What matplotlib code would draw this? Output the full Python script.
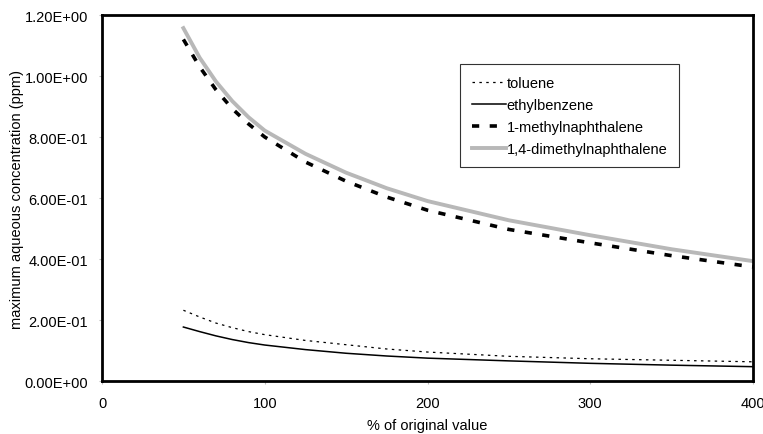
import matplotlib
matplotlib.use("Agg")
from matplotlib import pyplot as plt
from matplotlib.ticker import FuncFormatter

# ==================================================================================
# DATA
# ==================================================================================
pct_original = [50, 60, 70, 80, 90, 100, 125, 150, 175, 200, 250, 300, 350, 400]

toluene      = [0.232, 0.210, 0.190, 0.175, 0.162, 0.152, 0.133, 0.119, 0.105, 0.095, 0.081, 0.073, 0.068, 0.063]
ethylbenzene = [0.177, 0.162, 0.148, 0.136, 0.126, 0.118, 0.103, 0.091, 0.082, 0.075, 0.066, 0.058, 0.052, 0.047]
methylnaph   = [1.120, 1.030, 0.955, 0.893, 0.843, 0.800, 0.718, 0.655, 0.603, 0.560, 0.497, 0.453, 0.411, 0.374]
dimethylnaph = [1.157, 1.060, 0.982, 0.918, 0.865, 0.821, 0.745, 0.683, 0.632, 0.590, 0.527, 0.478, 0.432, 0.393]

x_ticks = [0, 100, 200, 300, 400]
y_ticks = [0.0, 0.2, 0.4, 0.6, 0.8, 1.0, 1.2]

# ==================================================================================
# PLOT
# ==================================================================================
plt.rcParams['font.family'] = ['Liberation Sans', 'DejaVu Sans']
plt.rcParams['font.size'] = 10.5

fig = plt.figure(figsize=(7.63, 4.35), dpi=100)
ax = fig.add_axes([0.1337, 0.1218, 0.8532, 0.8414])

ax.plot(pct_original, toluene, color='black', linestyle=(0, (2.0, 3.5)), linewidth=0.9, label='toluene')
ax.plot(pct_original, ethylbenzene, color='black', linestyle='-', linewidth=1.1, label='ethylbenzene')
ax.plot(pct_original, methylnaph, color='black', linestyle=(0, (2.0, 2.9)), linewidth=2.6, label='1-methylnaphthalene')
ax.plot(pct_original, dimethylnaph, color='#b8b8b8', linestyle='-', linewidth=2.8, label='1,4-dimethylnaphthalene')

ax.set_xlim(0, 400)
ax.set_ylim(0, 1.2)
ax.set_xticks(x_ticks)
ax.set_yticks(y_ticks)
ax.yaxis.set_major_formatter(FuncFormatter(lambda v, _: f'{v:.2E}'))
ax.tick_params(axis='both', length=2, width=0.8, color='#bbbbbb', labelsize=10.5)
ax.tick_params(axis='y', pad=8)
ax.tick_params(axis='x', pad=9)

for spine in ax.spines.values():
    spine.set_linewidth(2.0)
    spine.set_color('black')

ax.set_xlabel('% of original value')
ax.set_ylabel('maximum aqueous concentration (ppm)')
ax.xaxis.set_label_coords(0.5, -0.101)
ax.yaxis.set_label_coords(-0.12, 0.5)

leg = ax.legend(loc='upper left', bbox_to_anchor=(0.55, 0.866), borderaxespad=0, frameon=True,
                fancybox=False, edgecolor='black', handlelength=2.33, handletextpad=0.05,
                labelspacing=0.55, borderpad=0.8, fontsize=10.5)
leg.get_frame().set_linewidth(0.8)

fig.savefig('out.png', dpi=100)
